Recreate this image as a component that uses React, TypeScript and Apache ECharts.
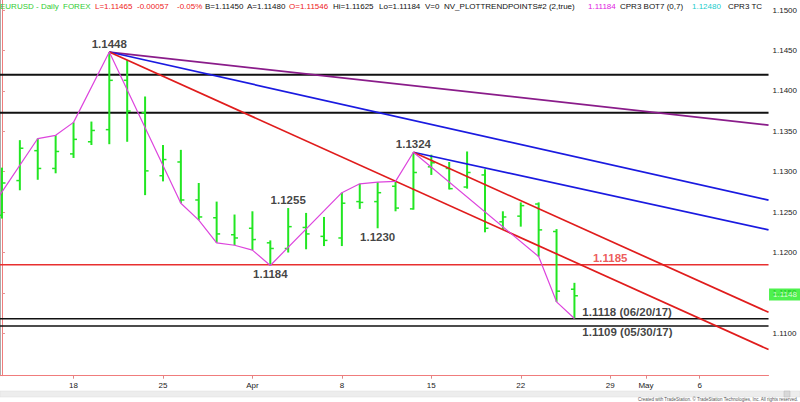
import React, { useEffect, useRef } from "react";
import * as echarts from "echarts";

// ---------- data ----------
const dates = [
  "2019-03-12", "2019-03-13", "2019-03-14", "2019-03-15", "2019-03-18", "2019-03-19", "2019-03-20",
  "2019-03-21", "2019-03-22", "2019-03-25", "2019-03-26", "2019-03-27", "2019-03-28", "2019-03-29",
  "2019-04-01", "2019-04-02", "2019-04-03", "2019-04-04", "2019-04-05", "2019-04-08", "2019-04-09",
  "2019-04-10", "2019-04-11", "2019-04-12", "2019-04-15", "2019-04-16", "2019-04-17", "2019-04-18",
  "2019-04-19", "2019-04-22", "2019-04-23", "2019-04-24", "2019-04-25",
];
const opens = [
  1.1246, 1.1289, 1.1326, 1.1304, 1.1322, 1.1337, 1.1352, 1.1413, 1.1373, 1.1295, 1.1312,
  1.1265, 1.1243, 1.1222, 1.1230, 1.1212, 1.1205, 1.1231, 1.1220, 1.1218, 1.1263, 1.1263,
  1.1282, 1.1254, 1.1306, 1.1304, 1.1281, 1.1296, 1.1238, 1.1245, 1.1260, 1.1226, 1.11546,
];
const highs = [
  1.1305, 1.1339, 1.1341, 1.1345, 1.1361, 1.1362, 1.1448, 1.1438, 1.1393, 1.1333, 1.1327,
  1.1286, 1.1263, 1.1247, 1.1251, 1.1215, 1.1255, 1.1249, 1.1244, 1.1274, 1.1285, 1.1287,
  1.1288, 1.1324, 1.1321, 1.1312, 1.1325, 1.1303, 1.1251, 1.1262, 1.1262, 1.1229, 1.11625,
];
const lows = [
  1.1242, 1.1277, 1.1290, 1.1298, 1.1317, 1.1333, 1.1334, 1.1337, 1.1271, 1.1288, 1.1261,
  1.1240, 1.1212, 1.1209, 1.1203, 1.1184, 1.1200, 1.1204, 1.1208, 1.1208, 1.1254, 1.1230,
  1.1251, 1.1253, 1.1296, 1.1278, 1.1279, 1.1225, 1.1228, 1.1232, 1.1195, 1.1139, 1.11184,
];
const closes = [
  1.1286, 1.1329, 1.1304, 1.1325, 1.1340, 1.1351, 1.1413, 1.1375, 1.1301, 1.1315, 1.1265,
  1.1244, 1.1223, 1.1218, 1.1216, 1.1205, 1.1232, 1.1223, 1.1215, 1.1261, 1.1262, 1.1274,
  1.1255, 1.1299, 1.1311, 1.1279, 1.1299, 1.1230, 1.1244, 1.1258, 1.1228, 1.11522, 1.11465,
];

// swing-point (trend points) zigzag: bar index, price
const trendIdx = [-1, 2, 3, 4, 6, 10, 11, 12, 13, 14, 15, 19, 20, 21, 22, 23, 30, 31, 32];
const trendVal = [
  1.1242, 1.1341, 1.1345, 1.1361, 1.1448, 1.1261, 1.1240, 1.1212, 1.1209, 1.1203, 1.1184,
  1.1274, 1.1285, 1.1287, 1.1288, 1.1324, 1.1195, 1.1139, 1.11184,
];

// trend / channel lines: [bar index, price] start and end
const purpleLine = [[6, 1.1448], [42.85, 1.13577]];
const blueLineA = [[6, 1.1448], [42.85, 1.12649]];
const blueLineB = [[23, 1.1324], [42.85, 1.1228]];
const redLineA = [[6, 1.1448], [42.85, 1.1080]];
const redLineB = [[23, 1.1324], [42.85, 1.1126]];

// horizontal levels
const cprLevels = [1.1420, 1.1373];
const supportLevel = 1.1185;
const refLevels = [1.1118, 1.1109];
const refDates = ["06/20/17", "05/30/17"];

// annotated swing prices
const highLabelIdx = [6, 16, 23];
const highLabelVal = [1.1448, 1.1255, 1.1324];
const lowLabelIdx = [15, 21];
const lowLabelVal = [1.1184, 1.1230];

// axis ticks
const xTickIdx = [4, 9, 14, 19, 24, 29, 34, 36, 39];
const xTickLabels = ["18", "25", "Apr", "8", "15", "22", "29", "May", "6"];
const yTicks = [1.11, 1.115, 1.12, 1.125, 1.13, 1.135, 1.14, 1.145, 1.15];

// quote header values
const bid = 1.1145;
const ask = 1.1148;
const volume = 0;
const cprValue = 1.1248;

// ---------- layout / style constants ----------
const X_MIN = -0.11;
const X_MAX = 42.85;
const Y_MIN = 1.104763;
const Y_MAX = 1.151237;
const SUPPORT_LABEL_X = 34;
const REF_LABEL_X = 32.47;

const FONT = "Arial, 'Liberation Sans', sans-serif";
const BAR_GREEN = "#22e622";
const AXIS_RED = "#f07c7c";

export default function App() {
  const ref = useRef<HTMLDivElement>(null);

  useEffect(() => {
    if (!ref.current) return;
    const chart = echarts.init(ref.current, null, { renderer: "svg" });
    const n = dates.length;
    const last = n - 1;
    const chg = closes[last] - closes[last - 1];
    const pct = (chg / closes[last - 1]) * 100;
    const f5 = (v: number) => v.toFixed(5);

    const headerItems = [
      { t: "EURUSD - Daily", x: 0, c: "#33cc33" },
      { t: "FOREX", x: 63, c: "#33cc33" },
      { t: `L=${f5(closes[last])}`, x: 95, c: "#ee2222" },
      { t: chg.toFixed(5), x: 137, c: "#ee2222" },
      { t: `${pct.toFixed(2)}%`, x: 177, c: "#ee2222" },
      { t: `B=${f5(bid)}`, x: 205, c: "#111" },
      { t: `A=${f5(ask)}`, x: 247, c: "#111" },
      { t: `O=${f5(opens[last])}`, x: 289, c: "#ee2222" },
      { t: `Hi=${f5(highs[last])}`, x: 333, c: "#111" },
      { t: `Lo=${f5(lows[last])}`, x: 379, c: "#111" },
      { t: `V=${volume}`, x: 425, c: "#111" },
      { t: "NV_PLOTTRENDPOINTS#2 (2,true)", x: 444, c: "#111" },
      { t: f5(trendVal[trendVal.length - 1]), x: 588, c: "#e020e0" },
      { t: "CPR3 BOT7 (0,7)", x: 620, c: "#111" },
      { t: f5(cprValue), x: 692, c: "#22cccc" },
      { t: "CPR3 TC", x: 728, c: "#111" },
    ];

    const ohlc = dates.map((d, i) => [i, opens[i], highs[i], lows[i], closes[i]]);

    const segLine = (pts: number[][], color: string, width: number, z: number) => ({
      type: "line",
      data: pts,
      showSymbol: false,
      symbol: "none",
      silent: true,
      clip: true,
      lineStyle: { color, width },
      z,
    });
    const hLine = (v: number, color: string, width: number) =>
      segLine([[X_MIN, v], [X_MAX, v]], color, width, 2);

    const boldLabel = {
      fontFamily: FONT,
      fontWeight: "bold",
      fontSize: 11.5,
      color: "#111",
      lineHeight: 12,
    };
    const labelScatter = (data: any[], label: any) => ({
      type: "scatter",
      data,
      symbolSize: 1,
      itemStyle: { color: "transparent" },
      silent: true,
      clip: false,
      z: 6,
      label: { show: true, ...boldLabel, ...label },
    });

    const option: any = {
      animation: false,
      backgroundColor: "#fff",
      grid: { left: 0, right: 31, top: 0, bottom: 26.3 },
      xAxis: {
        type: "value",
        min: X_MIN,
        max: X_MAX,
        splitLine: { show: false },
        axisLine: { show: true, lineStyle: { color: AXIS_RED, width: 1 } },
        axisTick: { show: true, length: 3, customValues: xTickIdx, lineStyle: { color: "#d88" } },
        axisLabel: {
          customValues: xTickIdx,
          margin: 6,
          fontSize: 8,
          fontFamily: FONT,
          color: "#222",
          formatter: (v: number) => {
            const k = xTickIdx.indexOf(Math.round(v));
            return k >= 0 ? xTickLabels[k] : "";
          },
        },
      },
      yAxis: [
        {
          type: "value",
          position: "right",
          min: Y_MIN,
          max: Y_MAX,
          splitLine: { show: false },
          axisLine: { show: true, lineStyle: { color: AXIS_RED, width: 1 } },
          axisTick: { show: true, length: 3, customValues: yTicks, lineStyle: { color: "#e49090" } },
          axisLabel: {
            customValues: yTicks,
            margin: 4,
            fontSize: 8,
            fontFamily: FONT,
            color: "#222",
            formatter: (v: number) => v.toFixed(4),
          },
        },
        {
          type: "value",
          position: "left",
          min: Y_MIN,
          max: Y_MAX,
          splitLine: { show: false },
          axisLine: { show: true, lineStyle: { color: "#aaa", width: 1 } },
          axisTick: { show: false },
          axisLabel: { show: false },
        },
      ],
      series: [
        ...cprLevels.map((v) => hLine(v, "#111", 2)),
        hLine(supportLevel, "#e83030", 1.5),
        ...refLevels.map((v) => hLine(v, "#111", 1.5)),
        {
          type: "custom",
          data: ohlc,
          encode: { x: 0, y: [1, 2, 3, 4] },
          silent: true,
          z: 3,
          renderItem: (params: any, api: any) => {
            const i = api.value(0);
            const o = api.coord([i, api.value(1)]);
            const h = api.coord([i, api.value(2)]);
            const l = api.coord([i, api.value(3)]);
            const c = api.coord([i, api.value(4)]);
            const x = h[0];
            return {
              type: "group",
              children: [
                { type: "line", shape: { x1: x, y1: h[1], x2: x, y2: l[1] }, style: { stroke: BAR_GREEN, lineWidth: 2 } },
                { type: "line", shape: { x1: x - 3.5, y1: o[1], x2: x, y2: o[1] }, style: { stroke: BAR_GREEN, lineWidth: 1.5 } },
                { type: "line", shape: { x1: x, y1: c[1], x2: x + 3.5, y2: c[1] }, style: { stroke: BAR_GREEN, lineWidth: 1.5 } },
              ],
            };
          },
        },
        segLine(purpleLine, "#8a1c8a", 1.7, 4),
        segLine(blueLineA, "#1a1ae0", 1.7, 4),
        segLine(blueLineB, "#1a1ae0", 1.7, 4),
        segLine(redLineA, "#e01c1c", 1.7, 4),
        segLine(redLineB, "#e01c1c", 1.7, 4),
        segLine(trendIdx.map((x, k) => [x, trendVal[k]]), "#dd44dd", 1.2, 5),
        labelScatter(highLabelIdx.map((x, k) => [x, highLabelVal[k]]), {
          position: "top",
          distance: 2,
          formatter: (p: any) => p.value[1].toFixed(4),
        }),
        labelScatter(lowLabelIdx.map((x, k) => [x, lowLabelVal[k]]), {
          position: "bottom",
          distance: 2,
          formatter: (p: any) => p.value[1].toFixed(4),
        }),
        labelScatter([[SUPPORT_LABEL_X, supportLevel]], {
          position: "top",
          distance: 0,
          formatter: supportLevel.toFixed(4),
          color: "#e83030",
        }),
        labelScatter([{ value: [REF_LABEL_X, refLevels[0]], name: refDates[0] }], {
          position: [0, -6],
          align: "left",
          verticalAlign: "middle",
          formatter: (p: any) => `${p.value[1].toFixed(4)} (${p.name})`,
        }),
        labelScatter([{ value: [REF_LABEL_X, refLevels[1]], name: refDates[1] }], {
          position: [0, 6],
          align: "left",
          verticalAlign: "middle",
          formatter: (p: any) => `${p.value[1].toFixed(4)} (${p.name})`,
        }),
        labelScatter([[X_MAX, ask]], {
          position: "right",
          distance: 0,
          formatter: ask.toFixed(4),
          backgroundColor: "#22ee22",
          color: "#fff",
          fontSize: 8,
          fontWeight: "normal",
          lineHeight: 9,
          padding: [2, 6, 1, 4],
        }),
      ],
      graphic: [
        ...headerItems.map((h) => ({
          type: "text",
          x: h.x,
          y: 6,
          silent: true,
          z: 10,
          style: {
            text: h.t,
            fill: h.c,
            fontSize: 8,
            fontFamily: FONT,
            verticalAlign: "middle",
            align: "left",
          },
        })),
        {
          type: "rect",
          shape: { x: 0, y: 391, width: 800, height: 6 },
          style: { fill: "#ededed", stroke: "#dcdcdc", lineWidth: 0.5 },
          silent: true,
        },
        {
          type: "rect",
          shape: { x: 784, y: 391, width: 6, height: 6 },
          style: { fill: "#d8d8d8", stroke: "#b8b8b8", lineWidth: 0.5 },
          silent: true,
        },
        {
          type: "text",
          x: 798,
          y: 399.5,
          silent: true,
          style: {
            text: "Created with TradeStation. \u00A9 TradeStation Technologies, Inc. All rights reserved.",
            fill: "#555",
            fontSize: 4.5,
            fontFamily: FONT,
            align: "right",
            verticalAlign: "middle",
          },
        },
      ],
    };

    chart.setOption(option);
    return () => chart.dispose();
  }, []);

  return (
    <div
      ref={ref}
      style={{ position: "fixed", left: 0, top: 0, width: 800, height: 402, background: "#fff" }}
    />
  );
}
